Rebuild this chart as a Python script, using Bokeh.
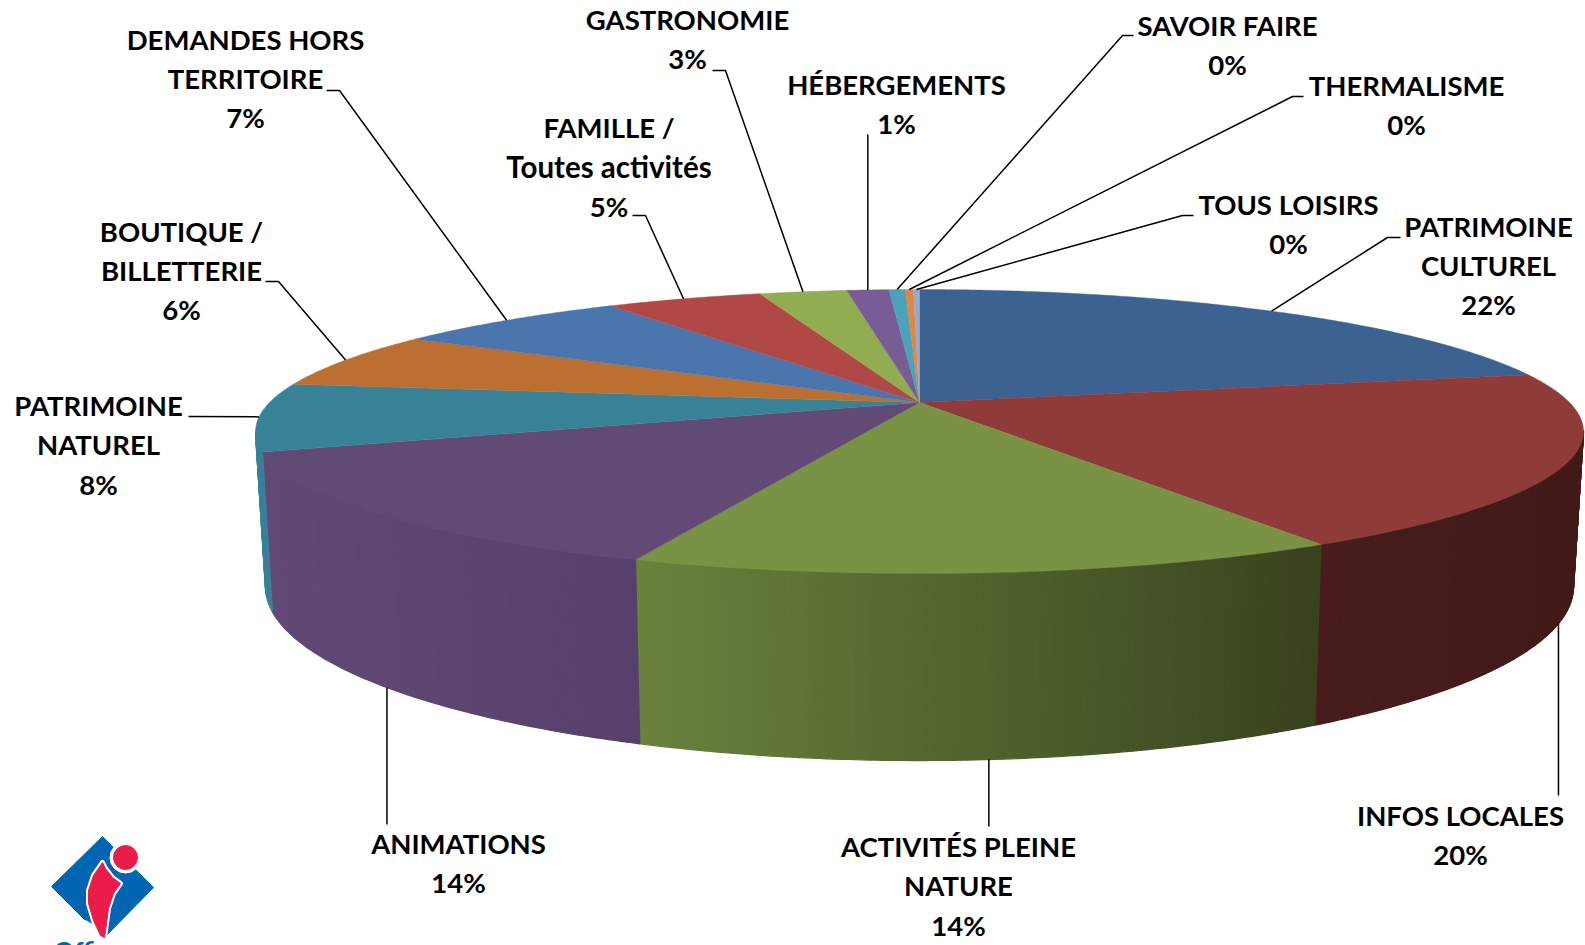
import math
from bokeh.plotting import figure
from bokeh.models import Range1d, ColumnDataSource
from bokeh.core.properties import value
from bokeh.embed import file_html
from bokeh.resources import INLINE

# ---- data -------------------------------------------------------------
categories = ["PATRIMOINE\nCULTUREL", "INFOS LOCALES", "ACTIVITÉS PLEINE\nNATURE", "ANIMATIONS",
              "PATRIMOINE\nNATUREL", "BOUTIQUE /\nBILLETTERIE", "DEMANDES HORS\nTERRITOIRE",
              "FAMILLE /\nToutes activités", "GASTRONOMIE", "HÉBERGEMENTS", "SAVOIR FAIRE",
              "THERMALISME", "TOUS LOISIRS"]
shares = [21.6, 19.9, 14.25, 13.75, 7.7, 6.4, 7.0, 4.65, 2.6, 1.25, 0.48, 0.24, 0.18]
shown_pct = ["22%", "20%", "14%", "14%", "8%", "6%", "7%", "5%", "3%", "1%", "0%", "0%", "0%"]

# ---- styles / layout ---------------------------------------------------
top_colors = ["#3C6291", "#8E3B39", "#7A9244", "#624A76", "#388298", "#BB7032", "#4A76AD",
              "#B04846", "#92AC52", "#785C96", "#48A3BB", "#E1873E", "#96A8CB"]
wall_stops = {1: [(1317, (72, 28, 28)), (1573, (65, 27, 25))],
              2: [(643, (106, 130, 60)), (915, (86, 104, 48)), (1180, (66, 80, 36)), (1317, (56, 66, 30))],
              3: [(265, (98, 74, 118)), (643, (88, 64, 108))],
              4: [(255, (56, 130, 152)), (270, (56, 130, 152))]}
label_xy = [(1488, 225.5), (1460, 815), (958, 846), (458, 843), (98, 405), (181, 230.5), (245, 38.5),
            (608.5, 127), (687, 19), (896, 84), (1227, 25), (1406, 85), (1288, 204)]
leaders = [[(1387, 237), (1400, 237)], [(None, 795)], [(None, 826)], [(None, 824)], [(188, 416)],
           [(278, 281), (265, 281)], [(339, 90), (326, 90)], [(645, 215), (632, 215)],
           [(725, 70), (712, 70)], [(None, 134)], [(1122, 35), (1133, 35)],
           [(1292, 96), (1303, 96)], [(1182, 215), (1193, 215)]]
FONT = "Lato"; FS = "27.5px"; FS_LOWER = "29.5px"; LH = 39.4

# ---- projection --------------------------------------------------------
cx, cy, rx, ry = 919.0, 431.0, 664.0, 142.0
cx2, cy2, rx2, ry2 = 919.0, 586.0, 654.0, 174.0
top_y, bot_y, apex_y = 289.0, 573.0, 402.0
ratio = (bot_y - apex_y) / (apex_y - top_y)
k = (ratio - 1) / (ratio + 1)
B = (apex_y - top_y) * (1 + k)
A = rx * math.sqrt(1 - k * k)

def rim(t):
    X, Y = math.sin(t), -math.cos(t)
    d = 1 - k * Y
    return cx + A * X / d, apex_y + B * Y / d

def phi_of(sx, sy):
    return math.atan2((sy - cy) / ry, (sx - cx) / rx)

def rim_low(t):
    f = phi_of(*rim(t))
    return cx2 + rx2 * math.cos(f), cy2 + ry2 * math.sin(f)

def stop_color(stops, x):
    if x <= stops[0][0]:
        c = stops[0][1]
    elif x >= stops[-1][0]:
        c = stops[-1][1]
    else:
        for (x0, c0), (x1, c1) in zip(stops, stops[1:]):
            if x0 <= x <= x1:
                f = (x - x0) / (x1 - x0)
                c = tuple(a + (b - a) * f for a, b in zip(c0, c1))
                break
    return "#%02x%02x%02x" % tuple(int(round(v)) for v in c)

total = sum(shares)
starts, ends, acc = [], [], 0.0
for s in shares:
    starts.append(acc / total * 2 * math.pi)
    acc += s
    ends.append(acc / total * 2 * math.pi)

p = figure(width=1585, height=945, x_range=Range1d(0, 1585), y_range=Range1d(945, 0),
           toolbar_location=None, output_backend="svg", min_border=0)
p.axis.visible = False
p.grid.visible = False
p.outline_line_color = None
p.background_fill_color = "white"

# walls
wx, wy, wc = [], [], []
STEP = math.radians(0.5)
for i, stops in wall_stops.items():
    n = max(1, int((ends[i] - starts[i]) / STEP))
    for j in range(n):
        t0 = starts[i] + (ends[i] - starts[i]) * j / n
        t1 = starts[i] + (ends[i] - starts[i]) * (j + 1) / n
        a0, a1 = rim(t0), rim(t1)
        if a0[1] < cy and a1[1] < cy:
            continue
        b0, b1 = rim_low(t0), rim_low(t1)
        wx.append([a0[0], a1[0], b1[0], b0[0]])
        wy.append([a0[1], a1[1], b1[1], b0[1]])
        wc.append(stop_color(stops, (b0[0] + b1[0]) / 2))
p.patches(xs="x", ys="y", fill_color="c", line_color="c", line_width=1.3,
          source=ColumnDataSource(dict(x=wx, y=wy, c=wc)))

# top slices
tx, ty = [], []
for s0, s1 in zip(starts, ends):
    n = max(2, int((s1 - s0) / math.radians(0.5)))
    pts = [rim(s0 + (s1 - s0) * j / n) for j in range(n + 1)]
    tx.append([cx] + [q[0] for q in pts])
    ty.append([apex_y] + [q[1] for q in pts])
p.patches(xs="x", ys="y", fill_color="c", line_color="c", line_width=0.4,
          source=ColumnDataSource(dict(x=tx, y=ty, c=top_colors)))

# leaders
lx, ly = [], []
for i, path in enumerate(leaders):
    mid = (starts[i] + ends[i]) / 2
    a = rim(mid)
    if a[1] > cy + 5:
        a = rim_low(mid)
    xs_, ys_ = [a[0]], [a[1]]
    for x, y in path:
        xs_.append(a[0] if x is None else x)
        ys_.append(y)
    lx.append(xs_)
    ly.append(ys_)
p.multi_line(xs=lx, ys=ly, line_color="black", line_width=1.5)

# labels
txt, xs_t, ys_t = [], [], []
txt2, xs_t2, ys_t2 = [], [], []
for c, pct, (x, y) in zip(categories, shown_pct, label_xy):
    for n, line in enumerate(c.split("\n") + [pct]):
        if line.isupper() or "%" in line:
            txt.append(line); xs_t.append(x); ys_t.append(y + n * LH)
        else:
            txt2.append(line); xs_t2.append(x); ys_t2.append(y + n * LH)
p.text(x=xs_t, y=ys_t, text=txt, text_font=value(FONT), text_font_style="bold",
       text_font_size=FS, text_color="black", text_align="center", text_baseline="middle")
p.text(x=xs_t2, y=ys_t2, text=txt2, text_font=value(FONT), text_font_style="bold",
       text_font_size=FS_LOWER, text_color="black", text_align="center", text_baseline="middle")

# logo
BLUE, RED = "#0066B3", "#EC1C4A"
p.patch([102, 153, 103, 51], [836, 887, 938, 886], fill_color=BLUE, line_color=BLUE, line_width=1)
p.patch([85, 85, 106, 106], [920, 946, 946, 932], fill_color="white", line_color="white")
p.scatter([125], [857], size=31, marker="circle", fill_color="white", line_color="white")
fig_x = [102, 105, 112, 120, 113, 108, 106, 104, 100, 93, 88, 88, 93]
fig_y = [862, 868, 877, 883, 893, 908, 923, 937, 935, 920, 903, 890, 875]
p.patch(fig_x, fig_y, fill_color="white", line_color="white", line_width=5, line_join="round")
p.patch(fig_x, fig_y, fill_color=RED, line_color=RED, line_width=1)
p.scatter([125], [857], size=24, marker="circle", fill_color=RED, line_color=RED)
p.text(x=[53], y=[950], text=["Offi"], text_font=value("Lato"), text_font_style="bold",
       text_font_size="26px", text_color=BLUE, text_align="left", text_baseline="middle")

open("out.html", "w").write(file_html(p, INLINE))
